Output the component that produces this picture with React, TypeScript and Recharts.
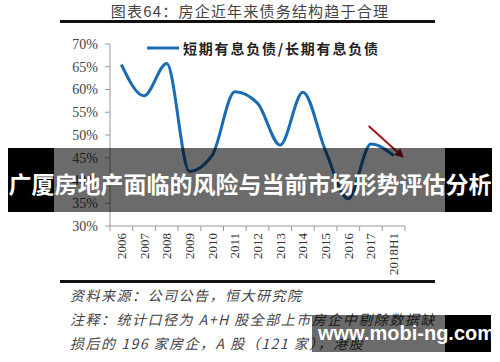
import { LineChart, Line, XAxis, YAxis, ReferenceLine } from "recharts";

const categories = ["2006", "2007", "2008", "2009", "2010", "2011", "2012", "2013", "2014", "2015", "2016", "2017", "2018H1"];
const ratioValues = [65.5, 58.6, 65.7, 42, 45.5, 59.5, 57, 47.8, 59.4, 46.5, 36, 48, 45.5];
const yTicks = [30, 35, 40, 45, 50, 55, 60, 65, 70];
const boundaryTicks = categories.map((_, i) => i).concat(categories.length);
const arrowStart = { x: 11.4, y: 52 };
const arrowEnd = { x: 12.95, y: 45 };

const seriesName = "短期有息负债/长期有息负债";
const titleText = "图表64：房企近年来债务结构趋于合理";
const bannerText = "广厦房地产面临的风险与当前市场形势评估分析";
const footnotes = [
  "资料来源：公司公告，恒大研究院",
  "注释：统计口径为 A+H 股全部上市房企中剔除数据缺",
  "损后的 196 家房企，A 股（121 家），港股",
];

const data = categories.map((c, i) => ({ pos: i + 0.5, year: c, ratio: ratioValues[i] }));

const PLOT_W = 295;
const HALF = PLOT_W / categories.length / 2;
const serif = "'Liberation Serif', 'DejaVu Serif', serif";
const cjk = "'Noto Sans CJK SC', sans-serif";

const CategoryTick = (props: any) => {
  const { x, y, payload } = props;
  const idx = payload.value;
  if (idx >= categories.length) return null;
  const cx = x + HALF;
  return (
    <text
      x={cx}
      y={y}
      transform={`rotate(-90 ${cx} ${y})`}
      textAnchor="end"
      dominantBaseline="central"
      fontSize={13}
      fontFamily={serif}
      fill="#333"
    >
      {categories[idx]}
    </text>
  );
};

const Arrow = (props: any) => {
  const { x1, y1, x2, y2 } = props;
  const ang = Math.atan2(y2 - y1, x2 - x1);
  const len = 9;
  const w = 4.5;
  const bx = x2 - len * Math.cos(ang);
  const by = y2 - len * Math.sin(ang);
  const px = -Math.sin(ang) * w;
  const py = Math.cos(ang) * w;
  return (
    <g>
      <line x1={x1} y1={y1} x2={bx} y2={by} stroke="#a3141c" strokeWidth={2} />
      <polygon points={`${x2},${y2} ${bx + px},${by + py} ${bx - px},${by - py}`} fill="#a3141c" />
    </g>
  );
};

export default function App() {
  return (
    <div style={{ position: "absolute", left: 0, top: 0, width: 500, height: 362, background: "#fff", overflow: "hidden" }}>
      <div
        style={{
          position: "absolute",
          left: 0,
          width: 500,
          top: 2,
          textAlign: "center",
          fontFamily: cjk,
          fontSize: 15,
          letterSpacing: 1.2,
          color: "#444",
          lineHeight: "18px",
        }}
      >
        {titleText}
      </div>
      <div style={{ position: "absolute", left: 60, width: 375, top: 20, height: 2.5, background: "#111" }} />

      <div style={{ position: "absolute", left: 0, top: 0 }}>
        <LineChart width={500} height={362} data={data} margin={{ top: 44, right: 95, left: 60, bottom: 0 }}>
          <XAxis
            dataKey="pos"
            type="number"
            domain={[0, categories.length]}
            ticks={boundaryTicks}
            interval={0}
            height={136}
            tickSize={5}
            tickMargin={2}
            axisLine={{ stroke: "#999" }}
            tickLine={{ stroke: "#999" }}
            tick={<CategoryTick />}
          />
          <YAxis
            type="number"
            domain={[30, 70]}
            ticks={yTicks}
            interval={0}
            width={50}
            tickSize={5}
            tickMargin={7}
            axisLine={{ stroke: "#999" }}
            tickLine={{ stroke: "#999" }}
            tick={{ fill: "#444", fontSize: 14, fontFamily: serif }}
            tickFormatter={(v: number) => `${v}%`}
          />
          <Line
            type="monotone"
            dataKey="ratio"
            name={seriesName}
            stroke="#1a6db3"
            strokeWidth={3}
            dot={false}
            isAnimationActive={false}
          />
          <ReferenceLine
            segment={[arrowStart, arrowEnd]}
            ifOverflow="visible"
            shape={<Arrow />}
          />
        </LineChart>
      </div>

      <div style={{ position: "absolute", left: 147, top: 38, display: "flex", alignItems: "center" }}>
        <svg width={32} height={6}>
          <line x1={0} y1={3} x2={32} y2={3} stroke="#1a6db3" strokeWidth={3} />
        </svg>
        <span style={{ marginLeft: 4, fontSize: 14, letterSpacing: 1.8, fontFamily: cjk, color: "#222", fontWeight: 700, lineHeight: "20px" }}>
          {seriesName}
        </span>
      </div>

      <div style={{ position: "absolute", left: 60, width: 375, top: 280, height: 2.5, background: "#111" }} />
      {footnotes.map((t, i) => (
        <div
          key={i}
          style={{
            position: "absolute",
            left: 70,
            top: 286 + i * 24,
            fontFamily: cjk,
            fontStyle: "italic",
            fontSize: 14,
            letterSpacing: 1.5,
            color: "#444",
            whiteSpace: "nowrap",
            lineHeight: "18px",
          }}
        >
          {t}
        </div>
      ))}

      <div style={{ position: "absolute", left: 8, top: 148, width: 46, height: 64, background: "#000" }} />
      <div style={{ position: "absolute", left: 54, top: 148, width: 391, height: 64, background: "rgba(0,0,0,0.58)" }} />
      <div style={{ position: "absolute", left: 445, top: 148, width: 47, height: 64, background: "#000" }} />
      <div
        style={{
          position: "absolute",
          left: 0,
          width: 500,
          top: 168,
          textAlign: "center",
          color: "#fff",
          fontFamily: cjk,
          fontWeight: 700,
          fontSize: 23,
          lineHeight: "30px",
          whiteSpace: "nowrap",
        }}
      >
        {bannerText}
      </div>

      <div style={{ position: "absolute", left: 312, top: 315, width: 133, height: 37, background: "rgba(0,0,0,0.58)" }} />
      <div style={{ position: "absolute", left: 445, top: 315, width: 46, height: 37, background: "#000" }} />
      <div
        style={{
          position: "absolute",
          left: 318,
          top: 320,
          color: "#fff",
          fontFamily: "'Liberation Sans', Arial, sans-serif",
          fontWeight: 700,
          fontSize: 20,
          lineHeight: "26px",
          whiteSpace: "nowrap",
        }}
      >
        www.mobi-ng.com
      </div>
    </div>
  );
}
